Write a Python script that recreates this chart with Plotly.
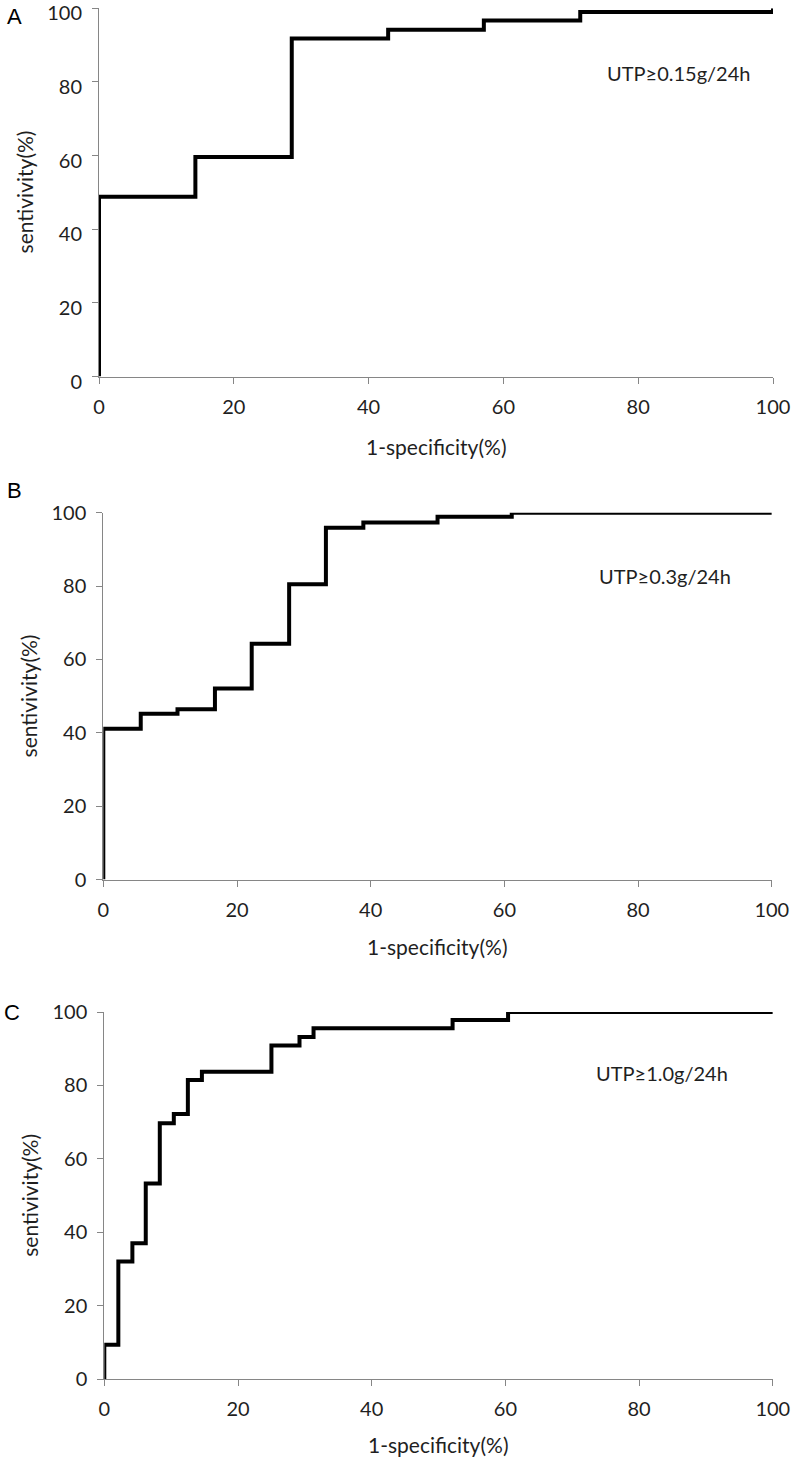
import plotly.graph_objects as go

W, H = 792, 1457

# ---- Data ----
# Panel A: UTP >= 0.15 g/24h
a_fpr = [0, 0, 14.3, 28.6, 42.9, 57.1, 71.4, 100]
a_sens = [0, 48.8, 59.6, 91.8, 94.2, 96.7, 99.0, 100]

# Panel B: UTP >= 0.3 g/24h
b_fpr = [0, 0, 5.6, 11.1, 16.7, 22.2, 27.8, 33.3, 38.9, 50.0, 61.1, 100]
b_sens = [0, 41.1, 45.2, 46.4, 52.1, 64.3, 80.5, 95.9, 97.3, 98.9, 100, 100]

# Panel C: UTP >= 1.0 g/24h
c_fpr = [0, 0, 2.1, 4.2, 6.2, 8.3, 10.4, 12.5, 14.6, 25.0, 29.2, 31.3, 52.1, 60.4, 100]
c_sens = [0, 9.3, 32.0, 37.0, 53.3, 69.7, 72.2, 81.5, 83.7, 90.9, 93.2, 95.6, 97.8, 100, 100]

tick_vals = [0, 20, 40, 60, 80, 100]
panel_letters = ["A", "B", "C"]
panel_notes = ["UTP≥0.15g/24h", "UTP≥0.3g/24h", "UTP≥1.0g/24h"]
x_title = "1-specificity(%)"
y_title = "sentivivity(%)"

# ---- Layout geometry (pixels) ----
# (left, right, top, bottom) of each plot area
boxes = [
    (99, 773, 8.3, 376.5),
    (103.3, 771.8, 512.7, 879.5),
    (104.3, 772.8, 1012, 1379),
]
ylabel_shift = [5, 0, 0]
note_pos = [(678, 73), (665, 576), (662, 1073)]
letter_pos = [(14, 16), (14, 490), (12, 1012)]
xtitle_y = [447, 946, 1444]

def px(x):
    return x / W

def py(y):
    return 1 - y / H

AX = "#868686"
TXT = "#1f1f1f"
FONT = "Lato"

fig = go.Figure()
series = [(a_fpr, a_sens), (b_fpr, b_sens), (c_fpr, c_sens)]

annotations = []
for i, ((xs, ys), (l, r, t, b)) in enumerate(zip(series, boxes)):
    n = "" if i == 0 else str(i + 1)
    fig.add_trace(go.Scatter(
        x=xs, y=ys, mode="lines", line=dict(color="black", width=4, shape="hv"),
        xaxis="x" + n, yaxis="y" + n, showlegend=False, hoverinfo="skip",
    ))
    common = dict(
        range=[0, 100], showline=True, linecolor=AX, linewidth=1,
        ticks="outside", tickcolor=AX, ticklen=6, tickwidth=1,
        tickvals=tick_vals, ticktext=[str(v) for v in tick_vals],
        showgrid=False, zeroline=False, fixedrange=True, automargin=False,
        ticklabeloverflow="allow",
        tickfont=dict(family=FONT, size=20, color=TXT),
    )
    fig.update_layout(**{
        "xaxis" + n: dict(common, domain=[px(l), px(r)], anchor="y" + n, ticklabelstandoff=6),
        "yaxis" + n: dict(common, domain=[py(b), py(t)], anchor="x" + n, ticklabelstandoff=6,
                           ticklabelshift=ylabel_shift[i]),
    })
    # axis titles
    annotations.append(dict(
        text=x_title, x=px((l + r) / 2), y=py(xtitle_y[i]), xref="paper", yref="paper",
        xanchor="center", yanchor="middle", showarrow=False,
        font=dict(family=FONT, size=21, color=TXT),
    ))
    annotations.append(dict(
        text=y_title, x=px(l - 75), y=py((t + b) / 2), xref="paper", yref="paper",
        xanchor="center", yanchor="middle", showarrow=False, textangle=-90,
        font=dict(family=FONT, size=21, color=TXT),
    ))
    # panel notes
    annotations.append(dict(
        text=panel_notes[i], x=px(note_pos[i][0]), y=py(note_pos[i][1]),
        xref="paper", yref="paper", xanchor="center", yanchor="middle", showarrow=False,
        font=dict(family=FONT, size=20, color=TXT),
    ))
    # panel letters
    annotations.append(dict(
        text=panel_letters[i], x=px(letter_pos[i][0]), y=py(letter_pos[i][1]),
        xref="paper", yref="paper", xanchor="center", yanchor="middle", showarrow=False,
        font=dict(family="Liberation Sans", size=22, color="black"),
    ))

fig.update_layout(
    template="none",
    width=W, height=H, margin=dict(l=0, r=0, t=0, b=0, pad=0, autoexpand=False),
    paper_bgcolor="white", plot_bgcolor="white",
    annotations=annotations, showlegend=False,
)

fig.write_html(
    "out.html",
    config={"displayModeBar": False},
    post_script="document.body.style.margin='0';document.body.style.overflow='hidden';",
)
